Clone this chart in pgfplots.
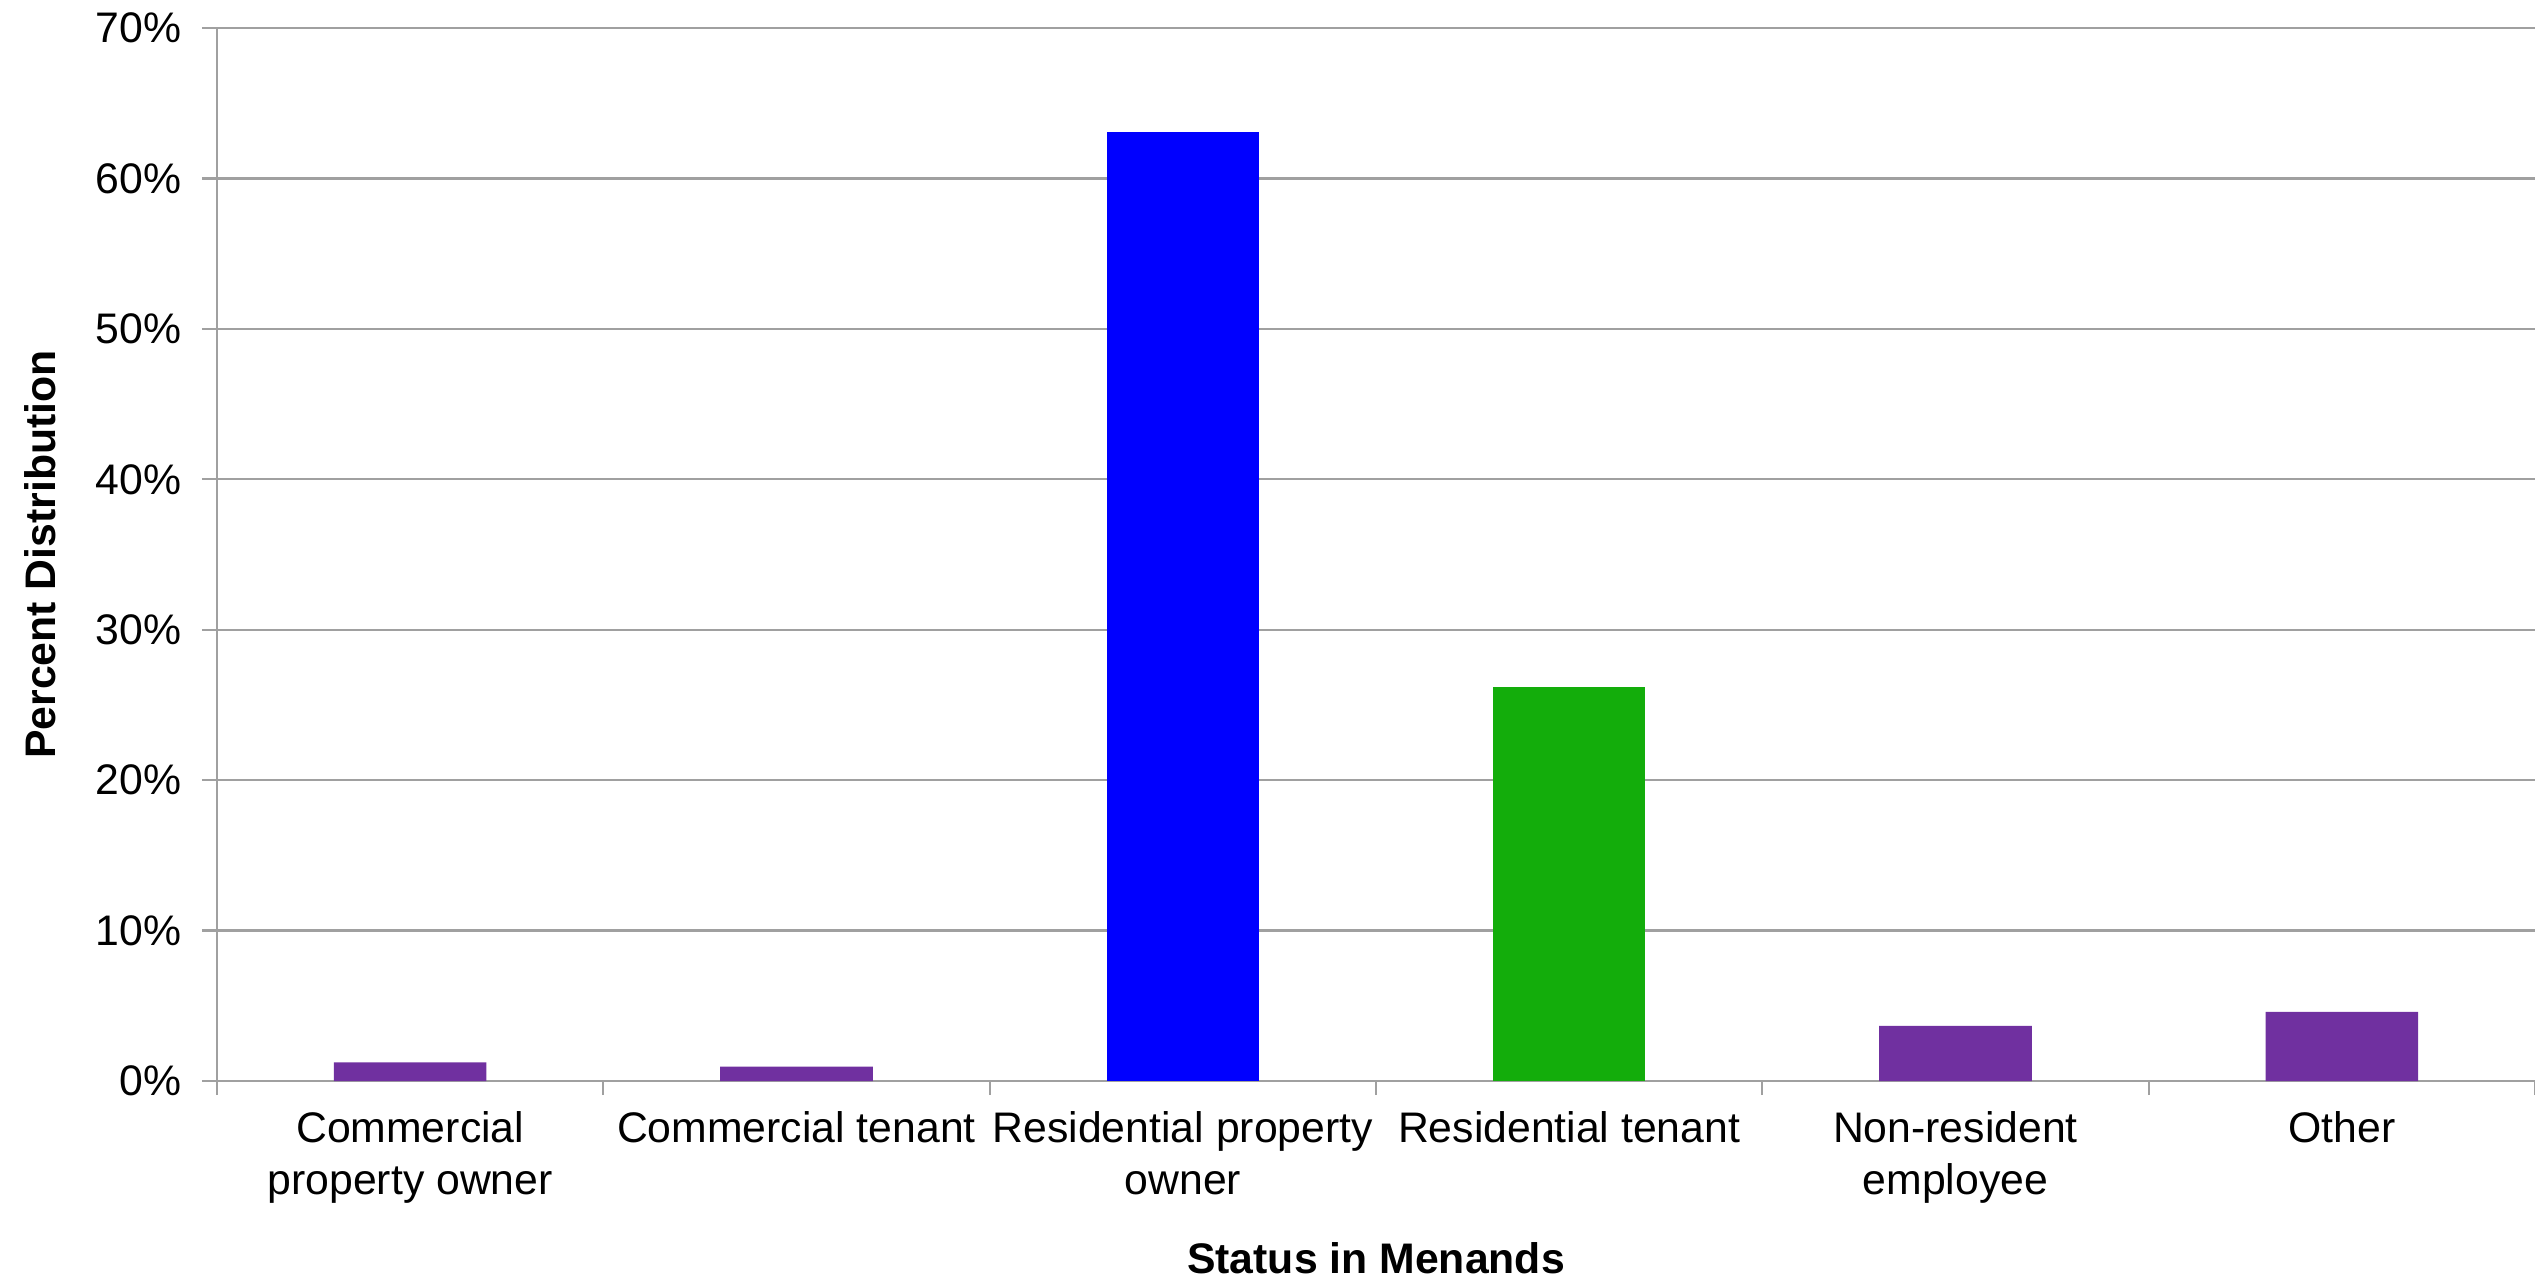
\documentclass[border=0pt]{standalone}
\usepackage{pgfplots}
\pgfplotsset{compat=1.18}
\usepackage{fontspec}
\setmainfont{Liberation Sans}
\definecolor{barpurple}{HTML}{7030A0}
\definecolor{barblue}{HTML}{0000FF}
\definecolor{bargreen}{HTML}{13AD0B}
\definecolor{gridgray}{HTML}{A0A0A0}
\begin{document}
\begin{tikzpicture}
\begin{axis}[
  scale only axis,
  width=463.6pt, height=210.6pt,
  xmin=-0.5, xmax=5.5, ymin=0, ymax=70,
  axis x line*=bottom, axis y line*=left,
  axis line style={gridgray, line width=0.45pt},
  ybar, bar width=0.395, /pgf/bar shift=0pt,
  xtick={0,1,2,3,4,5},
  xticklabels={{Commercial\\property owner},{Commercial tenant},{Residential property\\owner},{Residential tenant},{Non-resident\\employee},{Other}},
  major x tick style={draw=none},
  minor xtick={-0.5,0.5,1.5,2.5,3.5,4.5,5.5},
  minor x tick style={gridgray, line width=0.45pt},
  minor tick length=2.8pt,
  tick align=outside,
  ytick={0,10,20,30,40,50,60,70},
  yticklabel={\pgfmathprintnumber{\tick}\%},
  /pgf/number format/assume math mode=true,
  major tick length=3pt,
  y tick style={gridgray, line width=0.45pt},
  ymajorgrids,
  grid style={gridgray, line width=0.45pt},
  tick label style={font=\fontsize{8.55}{10.4}\selectfont, text=black},
  xticklabel style={align=center, yshift=0.4pt},
  yticklabel style={xshift=-0.6pt},
  xlabel={Status in Menands},
  ylabel={Percent Distribution},
  xlabel style={font=\fontsize{8.55}{10.4}\selectfont\bfseries, at={(axis description cs:0.5,0)}, anchor=center, yshift=-35.4pt},
  ylabel style={font=\fontsize{8.55}{10.4}\selectfont\bfseries, at={(axis description cs:0,0.5)}, anchor=center, yshift=35.4pt},
]
\addplot[fill=barpurple, draw=none] coordinates {(0,1.24) (1,0.95) (4,3.66) (5,4.6)};
\addplot[fill=barblue, draw=none] coordinates {(2,63.1)};
\addplot[fill=bargreen, draw=none] coordinates {(3,26.2)};
\end{axis}
\pgfresetboundingbox
\path[use as bounding box] (-43.4pt,-39.4pt) rectangle (463.6pt,216.2pt);
\end{tikzpicture}
\end{document}
